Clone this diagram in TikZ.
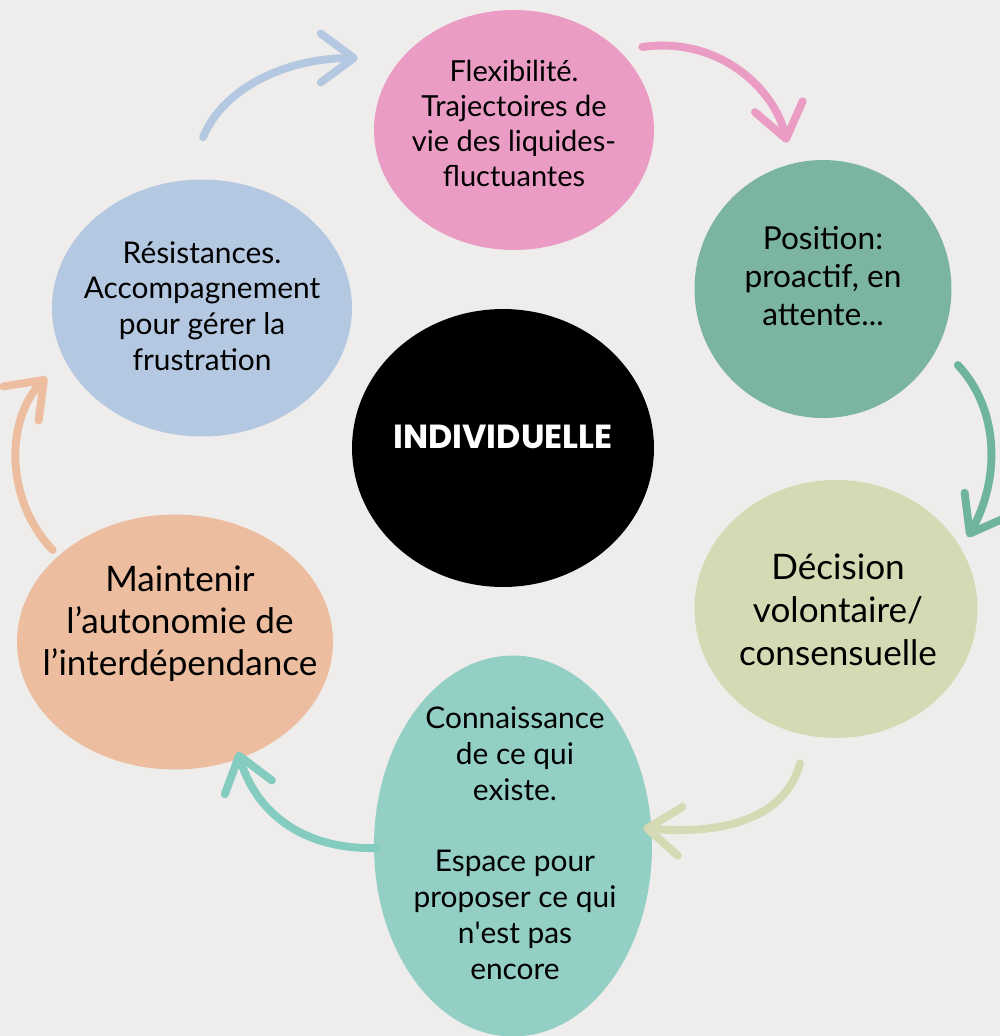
\documentclass[tikz,border=0pt]{standalone}
\usepackage{fontspec}
\setmainfont{Lato}
\newfontfamily\titlefont{Poppins}
\usetikzlibrary{shapes.geometric,arrows.meta}
\definecolor{bg}{HTML}{EEEDEB}
\definecolor{cpink}{HTML}{EA9CC4}
\definecolor{cgreen}{HTML}{7BB5A0}
\definecolor{colive}{HTML}{D6DAB4}
\definecolor{cteal}{HTML}{93CFC4}
\definecolor{cpeach}{HTML}{EDBD9F}
\definecolor{cblue}{HTML}{B5C8E2}
\definecolor{agreen}{HTML}{6FB59E}
\definecolor{ateal}{HTML}{84CBC0}
\tikzset{
  blob/.style={ellipse, draw=none, inner sep=0pt},
  txt/.style={align=center, inner sep=0pt, text=black},
  arr/.style={line width=4.5pt, line cap=round,
    -{Straight Barb[length=0.66cm, width=0.98cm, line cap=round, line join=round]}},
}
\begin{document}
\begin{tikzpicture}[x=0.02cm,y=-0.02cm]
\fill[bg] (0,0) rectangle (1000,1036);
\useasboundingbox (0,0) rectangle (1000,1036);

% ellipses
\node[blob, fill=cpink,  minimum width=5.6cm,  minimum height=4.8cm] (pink)  at (514,130) {};
\node[blob, fill=cgreen, minimum width=5.14cm, minimum height=5.16cm] (green) at (823,289) {};
\node[blob, fill=colive, minimum width=5.66cm, minimum height=5.16cm] (olive) at (836,609) {};
\node[blob, fill=cteal,  minimum width=5.56cm, minimum height=7.62cm] (teal)  at (513,846) {};
\node[blob, fill=cpeach, minimum width=6.32cm, minimum height=5.1cm] (peach) at (175,642) {};
\node[blob, fill=cblue,  minimum width=6.0cm,  minimum height=5.14cm] (blue)  at (202,308) {};
\node[blob, fill=black,  minimum width=6.04cm, minimum height=5.56cm] (core)  at (503,448) {};

% texts
\node[txt, font=\fontsize{16.5}{19.9}\selectfont] (tpink) at (514,123)
  {Flexibilité.\\Trajectoires de\\vie des liquides-\\fluctuantes};
\node[txt, font=\fontsize{18}{21.6}\selectfont] (tgreen) at (823,276)
  {Position:\\proactif, en\\attente...};
\node[txt, font=\fontsize{20}{24.4}\selectfont] (tolive) at (838,610)
  {Décision\\volontaire/\\consensuelle};
\node[txt, font=\fontsize{17}{20.4}\selectfont] (tteal) at (515,843)
  {Connaissance\\de ce qui\\existe.\\[20.4pt]Espace pour\\proposer ce qui\\n\textquotesingle est pas\\encore};
\node[txt, font=\fontsize{20}{23.9}\selectfont] (tpeach) at (180,624)
  {Maintenir\\l’autonomie de\\l’interdépendance};
\node[txt, font=\fontsize{17}{20.4}\selectfont] (tblue) at (202,306)
  {Résistances.\\Accompagnement\\pour gérer la\\frustration};
\node[txt, text=white, font=\titlefont\bfseries\fontsize{19}{23}\selectfont] (tcore) at (503,437)
  {INDIVIDUELLE};

% arrow end points, relative to the ellipses
\coordinate (b1) at ([shift={(1,-42)}]blue.north);
\coordinate (b2) at ([shift={(-16,-72)}]pink.west);
\coordinate (p1) at ([shift={(-12,-83)}]pink.east);
\coordinate (p2) at ([shift={(-36,-17)}]green.north);
\coordinate (g1) at ([shift={(6,76)}]green.east);
\coordinate (g2) at ([shift={(-10,-72)}]olive.east);
\coordinate (o1) at ([shift={(-36,25)}]olive.south);
\coordinate (o2) at ([shift={(-9,-18)}]teal.east);
\coordinate (t1) at ([shift={(3,2)}]teal.west);
\coordinate (t2) at ([shift={(63,-18)}]peach.south);
\coordinate (e1) at ([shift={(36,-92)}]peach.west);
\coordinate (e2) at ([shift={(-5,69)}]blue.west);

% arrows
\draw[arr, draw=cblue]  (b1) .. controls (225,85) and (290,58) .. (b2);
\draw[arr, draw=cpink]  (p1) .. controls (720,36) and (775,90) .. (p2);
\draw[arr, draw=agreen] (g1) .. controls (1000,410) and (1000,480) .. (g2);
\draw[arr, draw=colive] (o1) .. controls (785,820) and (720,835) .. (o2);
\draw[arr, draw=ateal]  (t1) .. controls (300,850) and (255,810) .. (t2);
\draw[arr, draw=cpeach] (e1) .. controls (5,500) and (5,420) .. (e2);
\end{tikzpicture}
\end{document}
